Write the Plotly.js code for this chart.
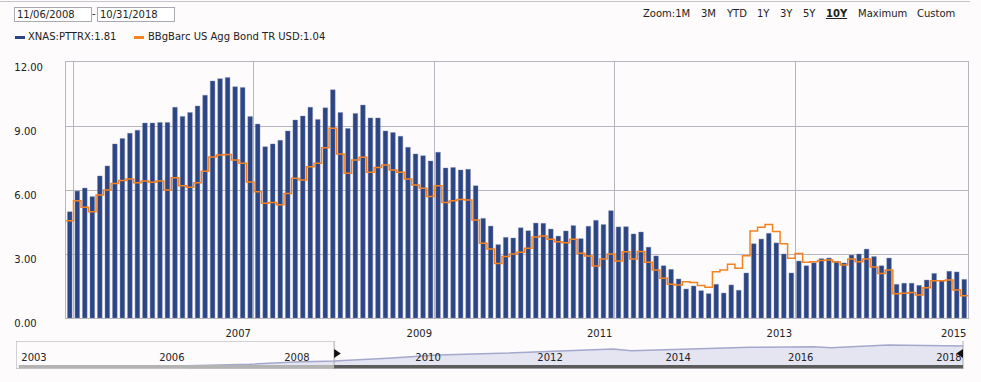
<!DOCTYPE html>
<html>
<head>
<meta charset="utf-8">
<script src="https://cdn.plot.ly/plotly-3.0.1.min.js"></script>
<style>
  html, body { margin: 0; padding: 0; background: #fdfbfc; }
  #wrap { position: relative; width: 981px; height: 382px; overflow: hidden; font-family: "DejaVu Sans", Verdana, sans-serif; font-size: 10px; color: #222; }
  #chart { position: absolute; left: 0; top: 0; width: 981px; height: 382px; }
  .ov { position: absolute; white-space: nowrap; line-height: 12px; }
  .box { position: absolute; border: 1px solid #a9a9b0; background: #fff; height: 15px; box-sizing: border-box; padding-left: 2px; line-height: 13px; }
  .dash { position: absolute; width: 10px; height: 3px; }
</style>
</head>
<body>
<div id="wrap">
  <div id="chart"></div>
  <div style="position:absolute;left:0;top:1px;width:970px;height:1px;background:#c8c4cc;"></div>
  <div class="box" style="left:14px;top:7px;width:78px;">11/06/2008</div>
  <div class="ov" style="left:92px;top:8px;">-</div>
  <div class="box" style="left:97px;top:7px;width:78px;">10/31/2018</div>

  <div class="ov" style="left:643px;top:8px;">Zoom:1M</div>
  <div class="ov" style="left:701px;top:8px;">3M</div>
  <div class="ov" style="left:727px;top:8px;">YTD</div>
  <div class="ov" style="left:757px;top:8px;">1Y</div>
  <div class="ov" style="left:780px;top:8px;">3Y</div>
  <div class="ov" style="left:803px;top:8px;">5Y</div>
  <div class="ov" style="left:826px;top:8px;font-weight:bold;text-decoration:underline;">10Y</div>
  <div class="ov" style="left:858px;top:8px;">Maximum</div>
  <div class="ov" style="left:917px;top:8px;">Custom</div>

  <div class="dash" style="left:15px;top:36px;background:#2c4585;"></div>
  <div class="ov" style="left:28px;top:31px;">XNAS:PTTRX:1.81</div>
  <div class="dash" style="left:134px;top:36px;background:#f58220;"></div>
  <div class="ov" style="left:148px;top:31px;">BBgBarc US Agg Bond TR USD:1.04</div>
</div>
<script>
// Monthly values, Nov 2008 .. Oct 2018
const fundValues = [
  4.98, 5.95, 6.09, 5.69, 6.66, 7.13, 8.16, 8.41, 8.66, 8.80,
  9.14, 9.14, 9.17, 9.17, 9.88, 9.45, 9.63, 9.94, 10.44, 11.11,
  11.22, 11.27, 10.84, 10.81, 9.44, 9.09, 8.03, 8.16, 8.33, 8.77,
  9.28, 9.47, 9.88, 9.31, 9.85, 10.70, 9.63, 8.88, 9.59, 9.98,
  9.38, 9.38, 8.77, 8.69, 8.52, 8.00, 7.69, 7.61, 7.36, 7.77,
  7.03, 7.05, 6.94, 6.97, 6.20, 4.67, 4.31, 3.44, 3.78, 3.75,
  4.23, 4.09, 4.45, 4.44, 4.17, 3.84, 4.08, 4.33, 3.72, 4.30,
  4.58, 4.38, 5.03, 4.27, 4.28, 3.94, 4.03, 3.32, 2.91, 2.45,
  2.28, 1.83, 1.36, 1.50, 1.28, 1.14, 1.58, 1.17, 1.55, 1.30,
  2.11, 3.48, 3.70, 3.97, 3.52, 3.00, 2.11, 2.67, 2.45, 2.59,
  2.78, 2.81, 2.66, 2.58, 2.95, 3.00, 3.23, 2.88, 2.45, 2.81,
  1.58, 1.63, 1.63, 1.53, 1.78, 2.09, 1.75, 2.19, 2.16, 1.81
];
const benchValues = [
  4.56, 5.50, 5.19, 4.98, 5.77, 6.00, 6.31, 6.45, 6.52, 6.34,
  6.42, 6.36, 6.42, 6.00, 6.58, 6.20, 6.13, 6.34, 6.88, 7.55,
  7.64, 7.66, 7.41, 7.25, 6.38, 5.92, 5.38, 5.41, 5.31, 5.84,
  6.55, 6.47, 7.09, 7.25, 7.98, 8.89, 7.69, 6.78, 7.41, 7.53,
  6.83, 7.06, 7.17, 6.94, 6.83, 6.52, 6.23, 6.08, 5.69, 6.20,
  5.42, 5.50, 5.56, 5.53, 4.59, 3.50, 3.23, 2.56, 2.88, 3.00,
  3.08, 3.27, 3.80, 3.84, 3.69, 3.58, 3.53, 3.69, 3.03, 2.91,
  2.44, 2.77, 3.00, 2.67, 3.11, 2.77, 3.12, 2.61, 2.25, 1.86,
  1.58, 1.55, 1.70, 1.66, 1.52, 1.44, 2.17, 2.25, 2.52, 2.33,
  2.92, 4.08, 4.25, 4.38, 4.05, 3.48, 2.80, 3.02, 2.61, 2.64,
  2.70, 2.72, 2.63, 2.48, 2.77, 2.64, 2.77, 2.39, 2.09, 2.25,
  1.14, 1.16, 1.20, 1.08, 1.42, 1.75, 1.75, 1.78, 1.31, 1.04
];
const xTickLabels = ['2007', '2009', '2011', '2013', '2015'];
const yTickValues = [0, 3, 6, 9, 12];

// Navigator (full history overview)
const navYears  = [2005.52, 2006.54, 2007.26, 2007.92, 2008.80, 2009.62, 2010.64, 2011.46, 2012.49, 2012.79, 2013.72, 2014.74, 2015.77, 2016.07, 2017.00, 2017.61, 2018.23];
const navValues = [3.3, 4.7, 7.0, 8.0, 10.7, 14.0, 15.7, 17.3, 20.0, 18.3, 20.0, 21.7, 22.3, 21.3, 24.0, 23.7, 23.0];
const navTickLabels = ['2003', '2006', '2008', '2010', '2012', '2014', '2016', '2018'];

const idx = fundValues.map((v, i) => i);
const stepX = benchValues.map((v, i) => i - 0.5).concat([benchValues.length - 0.5]);
const stepY = benchValues.concat([benchValues[benchValues.length - 1]]);

// left-aligned look for right-aligned tick labels: pad with figure spaces (digit width)
const yTickText = yTickValues.map(v => {
  const s = v.toFixed(2);
  return s + '\u2007'.repeat(5 - s.length);
});

const gridC = '#b9b5be';
const traces = [
  { type: 'bar', x: idx, y: fundValues, width: 0.62,
    marker: { color: '#2c4585', line: { color: '#7d8bb0', width: 0.4 } },
    xaxis: 'x', yaxis: 'y', hoverinfo: 'none' },
  { type: 'scatter', mode: 'lines', x: stepX, y: stepY,
    line: { color: '#f58220', width: 1.5, shape: 'hv' },
    xaxis: 'x2', yaxis: 'y', hoverinfo: 'none' },
  { type: 'scatter', mode: 'lines', x: navYears, y: navValues,
    fill: 'tozeroy', fillcolor: 'rgba(170,172,215,0.28)',
    line: { color: '#a4a8cc', width: 1.5 },
    xaxis: 'x3', yaxis: 'y3', hoverinfo: 'none' }
];

const N = fundValues.length;
const range = [-0.5, N - 0.5];
const mainDom = [0.05252, 1];

const layout = {
  width: 981, height: 382,
  margin: { l: 16, r: 13, t: 62, b: 13 },
  paper_bgcolor: 'rgba(0,0,0,0)',
  plot_bgcolor: 'rgba(0,0,0,0)',
  showlegend: false,
  bargap: 0,
  font: { family: 'DejaVu Sans, Verdana, sans-serif', size: 10, color: '#222' },
  xaxis: {
    domain: mainDom, range: range, anchor: 'y',
    tickmode: 'array', tickvals: [0.5, 24.5, 48.5, 72.5, 96.5],
    showticklabels: false, showgrid: true, gridcolor: gridC, gridwidth: 1,
    showline: true, linecolor: gridC, linewidth: 1, mirror: true,
    zeroline: false, ticks: ''
  },
  xaxis2: {
    domain: mainDom, range: range, anchor: 'y', overlaying: 'x',
    tickmode: 'array', tickvals: [22.4, 46.5, 70.5, 94.4, 117.6], ticktext: xTickLabels,
    showgrid: false, showline: false, zeroline: false, ticks: '',
    ticklabelstandoff: 8,
    tickfont: { size: 10, color: '#222' }
  },
  yaxis: {
    domain: [0.1661, 1], range: [0, 12], anchor: 'x',
    tickmode: 'array', tickvals: yTickValues, ticktext: yTickText,
    showgrid: true, gridcolor: gridC, gridwidth: 1,
    showline: true, linecolor: gridC, linewidth: 1, mirror: true,
    zeroline: false, ticks: '',
    ticklabelstandoff: 20, ticklabelshift: 5,
    tickfont: { size: 10, color: '#222' }
  },
  xaxis3: {
    domain: [0, 0.9979], range: [2002.705, 2018.279], anchor: 'y3',
    tickmode: 'array',
    tickvals: [2003.0, 2005.26, 2007.31, 2009.46, 2011.46, 2013.56, 2015.57, 2018.0],
    ticktext: navTickLabels,
    ticklabelposition: 'inside', ticklabelstandoff: 3,
    showgrid: false, showline: false, zeroline: false, ticks: '',
    tickfont: { size: 10, color: '#222' }
  },
  yaxis3: {
    domain: [0, 0.0912], range: [0, 28], anchor: 'x3',
    showgrid: false, showline: false, zeroline: false, showticklabels: false, ticks: ''
  },
  shapes: [
    { type: 'rect', xref: 'x3', yref: 'y3', x0: 2002.705, x1: 2007.92, y0: 0, y1: 28,
      line: { color: '#a8a8ae', width: 1 }, fillcolor: 'rgba(0,0,0,0)' },
    { type: 'line', xref: 'x3', yref: 'y3', x0: 2018.23, x1: 2018.23, y0: 0, y1: 28,
      line: { color: '#a8a8ae', width: 1 } },
    { type: 'rect', xref: 'x3', yref: 'y3', x0: 2002.75, x1: 2007.92, y0: 0.5, y1: 4,
      line: { width: 0 }, fillcolor: '#b3b3b3' },
    { type: 'rect', xref: 'x3', yref: 'y3', x0: 2007.92, x1: 2018.23, y0: 0.5, y1: 4,
      line: { width: 0 }, fillcolor: '#5b5b5b' },
    { type: 'path', xref: 'x3', yref: 'y3',
      path: 'M 2007.92 20 L 2008.03 15.5 L 2007.92 11 Z',
      line: { width: 0 }, fillcolor: '#111' },
    { type: 'path', xref: 'x3', yref: 'y3',
      path: 'M 2018.23 20 L 2018.12 15.5 L 2018.23 11 Z',
      line: { width: 0 }, fillcolor: '#111' }
  ]
};

Plotly.newPlot('chart', traces, layout, { staticPlot: true, displayModeBar: false });
</script>
</body>
</html>
